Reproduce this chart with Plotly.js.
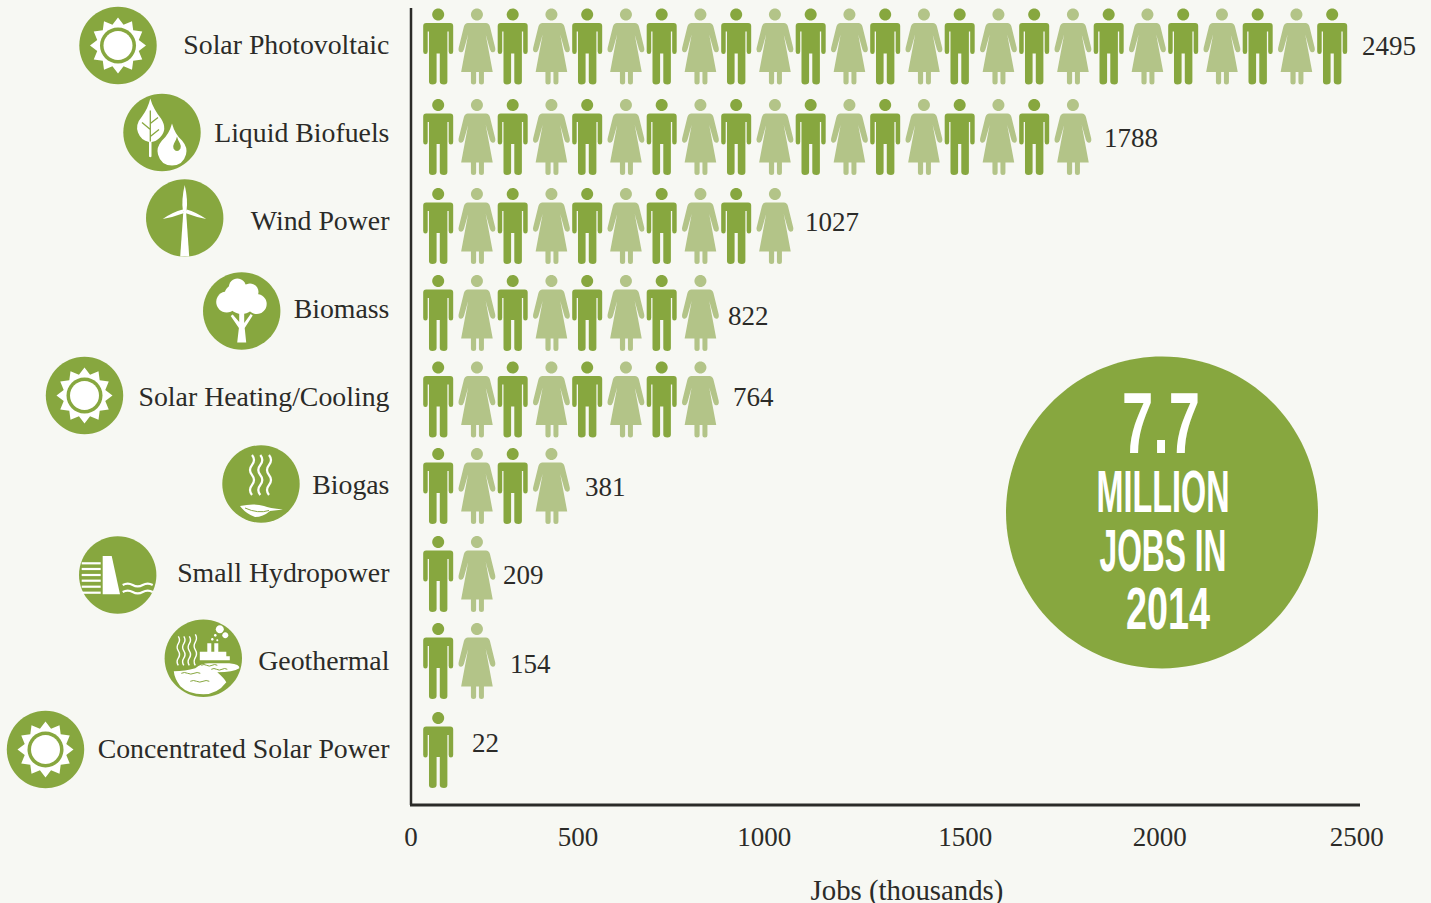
<!DOCTYPE html>
<html><head><meta charset="utf-8">
<script src="https://cdn.plot.ly/plotly-3.0.1.min.js"></script>
<style>html,body{margin:0;padding:0;background:#f7f8f3;overflow:hidden}</style>
</head><body><div id="chart" style="width:1431px;height:903px"></div>
<script>
// ---- data ----
const categories = ["Solar Photovoltaic","Liquid Biofuels","Wind Power","Biomass","Solar Heating/Cooling","Biogas","Small Hydropower","Geothermal","Concentrated Solar Power"];
const jobs = [2495,1788,1027,822,764,381,209,154,22];
const tickLabels = ["0","500","1000","1500","2000","2500"];
const calloutLines = ["7.7","MILLION","JOBS IN","2014"];
const unitPerFigure = 100;

// ---- layout helpers (not data) ----
const GREEN="#87a73f", PALE="#b3c488", BG="#f7f8f3", INK="#2b2b28", WHITE="#ffffff";
const PL=411, PT=8, PB=805, PR=1403, SCALE=0.3725, ROW0=44.5, ROWH=88;
const xMax=(PR-PL)/SCALE;
const tickSpots=[0,448,948,1488,2010,2539];
const rowNudge=[2,4.5,5.5,4.5,3,1.5,1.5,0.5,1.5];
const labelShiftX=[19.6,25,9.4,8.8,35.4,30,12,39.6,50.8];
const labelShiftY=[1.5,5.5,1.5,7.5,0.5,2.5,2.5,3.5,-5.5];
const iconCentres=[[118,45.5],[162,132.5],[184.7,218],[241.7,311],[84.5,395.5],[261,484],[117.7,575],[203.3,658.3],[45.5,749.5]];
const iconKinds=["sun","fuel","wind","tree","sun","gas","hydro","geo","sun"];
const px2fx=p=>(p-PL)/(PR-PL), py2fy=p=>(PB-p)/(PB-PT);

function flip(d){ // write icons y-down, Plotly pixel-size paths are y-up
  return d.replace(/([MLCQ])([^MLCQZ]*)/g,(m,c,a)=>{
    const n=a.trim().split(/[\s,]+/).map(Number);
    return c+n.map((v,i)=>{const o=i%2?-v:v;return +o.toFixed(2)}).join(",")+" ";
  });
}
function circ(cx,cy,r){const k=r*0.5523;
  return `M${cx-r},${cy} C${cx-r},${cy-k} ${cx-k},${cy-r} ${cx},${cy-r} C${cx+k},${cy-r} ${cx+r},${cy-k} ${cx+r},${cy} C${cx+r},${cy+k} ${cx+k},${cy+r} ${cx},${cy+r} C${cx-k},${cy+r} ${cx-r},${cy+k} ${cx-r},${cy} Z`;}
function vwave(x,y0,y1,amp,n){let d=`M${x},${y0} `;const s=(y1-y0)/n;
  for(let i=0;i<n;i++){const sgn=i%2?-1:1;d+=`Q${x+sgn*amp*2},${y0+s*(i+.5)} ${x},${y0+s*(i+1)} `;}return d;}
function hwave(x0,x1,y,amp,n){let d=`M${x0},${y} `;const s=(x1-x0)/n;
  for(let i=0;i<n;i++){const sgn=i%2?1:-1;d+=`Q${x0+s*(i+.5)},${y+sgn*amp*2} ${x0+s*(i+1)},${y} `;}return d;}

const MAN="M-12,-23.5 L12,-23.5 Q15,-23.5 15,-20.5 L15,5 Q15,7.5 12.7,7.5 Q10.5,7.5 10.5,5 L10.5,-15 L9.2,-15 L9.2,35 Q9.2,38 5.8,38 Q1.6,38 1.6,35 L1.6,7 L-1.6,7 L-1.6,35 Q-1.6,38 -5.8,38 Q-9.2,38 -9.2,35 L-9.2,-15 L-10.5,-15 L-10.5,5 Q-10.5,7.5 -12.7,7.5 Q-15,7.5 -15,5 L-15,-20.5 Q-15,-23.5 -12,-23.5 Z";
const WOMAN="M-9,-23.5 L9,-23.5 Q12,-23.5 13,-20 L18.3,1.5 Q19,5.5 16,5.8 Q14,6 13,3 L8.8,-12 L15.8,25.5 L7,25.5 L7,35.5 Q7,38 4.5,38 Q2,38 2,35.5 L2,25.5 L-0.8,25.5 L-0.8,35.5 Q-0.8,38 -3.4,38 Q-6,38 -6,35.5 L-6,25.5 L-15.8,25.5 L-8.8,-12 L-13,3 Q-14,6 -16,5.8 Q-19,5.5 -18.3,1.5 L-13,-20 Q-12,-23.5 -9,-23.5 Z";
const HEAD=circ(0,-32,6);

const shapes=[];
// pictogram rows: one figure per unitPerFigure jobs
jobs.forEach((v,row)=>{
  const n=Math.max(1,Math.round(v/unitPerFigure));
  for(let i=0;i<n;i++){
    const common={type:"path",xref:"x",yref:"y",xsizemode:"pixel",ysizemode:"pixel",
      xanchor:73+i*unitPerFigure+(i%2?4:0),yanchor:row+rowNudge[row]/ROWH,layer:"above",
      fillcolor:i%2?PALE:GREEN,line:{width:0}};
    shapes.push(Object.assign({},common,{path:flip(i%2?WOMAN:MAN)}));
    shapes.push(Object.assign({},common,{path:flip(HEAD)}));
  }
});
function pap(cx,cy,path,fill,stroke,w){
  shapes.push({type:"path",xref:"paper",yref:"paper",xsizemode:"pixel",ysizemode:"pixel",
    xanchor:px2fx(cx),yanchor:py2fy(cy),layer:"above",path:flip(path),
    fillcolor:fill||"rgba(0,0,0,0)",line:stroke?{color:stroke,width:w}:{width:0}});
}
function drawIcon(kind,cx,cy){
  pap(cx,cy,circ(0,0,38.7),GREEN);
  const W=(p)=>pap(cx,cy,p,WHITE), G=(p)=>pap(cx,cy,p,GREEN);
  const WS=(p,w)=>pap(cx,cy,p,null,WHITE,w), GS=(p,w)=>pap(cx,cy,p,null,GREEN,w);
  if(kind==="sun"){
    let d="";const T=12;
    for(let i=0;i<T;i++){
      const a=-Math.PI/2+i*2*Math.PI/T,b=a+Math.PI/T;
      d+=(i?"L":"M")+(28*Math.cos(a)).toFixed(2)+","+(28*Math.sin(a)).toFixed(2)+" L"+(21.5*Math.cos(b)).toFixed(2)+","+(21.5*Math.sin(b)).toFixed(2)+" ";
    }
    W(d+"Z"); G(circ(0,0,18)); W(circ(0,0,14.5));
  } else if(kind==="fuel"){
    W("M-11.7,-34 Q-9,-24 -1,-14 Q6,-3 -2,5 Q-6,9 -10.5,9.5 L-10.5,24 Q-11.7,25.5 -13,24 L-13,9.5 Q-21,8 -24,0 Q-27,-8 -20,-16 Q-14,-24 -11.7,-34 Z");
    GS("M-11.7,-22 L-11.7,9 M-11.7,-3 L-20,-10 M-11.7,-9 L-4,-15 M-11.7,4 L-3,-3",1.3);
    W("M10,-9 Q13,2 20,8 Q26,15 24,22 Q21,33 10,33 Q-1,33 -4,22 Q-6,15 0,8 Q7,2 10,-9 Z");
    G("M15,4 Q16,8 18,11 Q19.5,14 18.5,16 Q17,18.5 15,18.5 Q13,18.5 11.5,16 Q10.5,14 12,11 Q14,8 15,4 Z");
  } else if(kind==="wind"){
    W("M-1.2,-9 L1.2,-9 L4.5,38.5 L-4.5,38.5 Z");
    W("M0,-33 Q3.5,-18 1.8,-7 L-1.8,-7 Q-3.5,-18 0,-33 Z");
    W("M-22,1 Q-12,-6 -2,-8.5 L-0.5,-5 Q-11,-1 -22,1 Z");
    W("M21.5,1 Q11,-6 2,-8.5 L0.5,-5 Q11,-1 21.5,1 Z");
  } else if(kind==="tree"){
    [[-4.3,-24,8.5],[8.3,-19,8.5],[-15,-9,10.5],[15,-7,10],[0,-12,15],[-8,-17,9]].forEach(c=>W(circ(c[0],c[1],c[2])));
    W("M-2.5,0 L2.5,0 L2.5,12 L9,3 L11,4.5 L3,17 L4.5,31.5 L-4.5,31.5 L-2.8,17 L-11,5 L-9,3.5 L-2.5,11 Z");
  } else if(kind==="gas"){
    [-9,-0.7,8].forEach(x=>WS(vwave(x,-29,11,2,4),2.2));
    W("M-21,22 Q-7,19 3,22 Q8,24 22,25.5 L9,27 Q2,33 -6,33 Q-15,30 -21,22 Z");
    GS("M-16,24 Q-3,30 8,26.5",1);
  } else if(kind==="hydro"){
    [-11.7,-6,0,5.7,11.7,17.7].forEach(y=>W(`M-36,${y-1.1} L-17,${y-1.1} L-17,${y+1.1} L-36,${y+1.1} Z`));
    W("M-15,-19 L-6,-19 L2.3,19.3 L-15,19.3 Z");
    WS(hwave(5,35,10,1.4,3),2.2); WS(hwave(5,35,17,1.4,3),2.2);
  } else if(kind==="geo"){
    [-25,-19.5,-14,-8].forEach((x,i)=>WS(vwave(x,-22-(i===3?2:0),7,1.2,4),1.4));
    W("M-3.5,-6.5 L4,-6.5 L4,-15 L8,-15 L8,-6.5 L11,-6.5 L11,-15 L15,-15 L15,-6.5 L23,-6.5 L23,-2 L26.5,-2 L26.5,2 L-3.5,2 Z");
    W(circ(16.5,-29,4)); W(circ(22,-23,3)); W(circ(12,-23,1.4)); W(circ(9,-19,1.3)); W(circ(14,-18,1));
    W("M-29.5,13 Q-18,13 -8,10 Q-2,5 6,5 L26,5 Q37,6 36,10 Q30,14 14,14 Q21,20 23,24 Q14,36 0,36 Q-15,36 -23,28 Q-29,20 -29.5,13 Z");
    [[-22,-3,15],[-13,6,23],[-2,14,7],[8,24,11]].forEach(a=>GS(hwave(a[0],a[1],a[2],.8,3),1));
  }
}
iconKinds.forEach((k,i)=>drawIcon(k,iconCentres[i][0],iconCentres[i][1]));
// axis lines: the x line stops short of the plot edge, as in the reference
shapes.push({type:"line",xref:"paper",yref:"paper",x0:px2fx(411),x1:px2fx(411),y0:0,y1:1,line:{color:INK,width:2.5},layer:"above"});
shapes.push({type:"line",xref:"paper",yref:"paper",x0:px2fx(410),x1:px2fx(1360),y0:0,y1:0,line:{color:INK,width:3},layer:"above"});
// callout disc
pap(1162,512.5,circ(0,0,156),GREEN);

const serif="Liberation Serif, serif";
const annotations=jobs.map((v,i)=>({
  x:v,y:i,xref:"x",yref:"y",text:String(v),showarrow:false,xanchor:"left",yanchor:"middle",
  xshift:labelShiftX[i],yshift:-labelShiftY[i],font:{family:serif,size:27,color:INK}
}));
// callout: one block of text; line geometry = [centre x, baseline y, width]
const calloutGeom=[[1161,453.3,78],[1163,512.3,133],[1163,571,127],[1168,629.3,84]];
annotations.push({
  x:px2fx(1163),y:py2fy(512),xref:"paper",yref:"paper",showarrow:false,xanchor:"center",yanchor:"middle",align:"center",
  text:calloutLines.map((t,i)=>i===0?`<span style="font-size:88px">${t}</span>`:t).join("<br>"),
  font:{family:"Liberation Sans Narrow, Liberation Sans, sans-serif",size:60,color:WHITE,weight:700}
});

const trace={type:"scatter",mode:"markers",x:jobs,y:categories.map((c,i)=>i),text:categories,
  marker:{opacity:0,size:10,color:GREEN},showlegend:false,hovertemplate:"%{text}: %{x}<extra></extra>"};

const layout={
  width:1431,height:903,paper_bgcolor:BG,plot_bgcolor:BG,showlegend:false,
  margin:{l:PL,r:1431-PR,t:PT,b:903-PB,pad:0},
  font:{family:serif,color:INK},
  xaxis:{range:[0,xMax],tickmode:"array",tickvals:tickSpots,ticktext:tickLabels,showgrid:false,zeroline:false,
    showline:false,ticks:"outside",ticklen:8,tickcolor:"rgba(0,0,0,0)",tickfont:{family:serif,size:27,color:INK},
    title:{text:"Jobs (thousands)",standoff:41,font:{family:serif,size:28.8,color:INK}}},
  yaxis:{range:[(PB-ROW0)/ROWH,(PT-ROW0)/ROWH],tickmode:"array",tickvals:categories.map((c,i)=>i),ticktext:categories,
    showgrid:false,zeroline:false,showline:false,ticks:"outside",ticklen:15,tickcolor:"rgba(0,0,0,0)",
    tickfont:{family:serif,size:27.8,color:INK}},
  shapes,annotations
};
Plotly.newPlot("chart",[trace],layout,{displayModeBar:false,staticPlot:true}).then(()=>{
  // the reference's callout face is far more condensed than any installed font:
  // fit each line of the block to its measured width and baseline
  const el=[...document.querySelectorAll(".annotation-text")].find(t=>t.textContent.indexOf("MILLION")>=0);
  if(el){
    const ctm=el.getScreenCTM();
    el.querySelectorAll("tspan.line").forEach((ln,i)=>{
      const g=calloutGeom[i]; if(!g) return;
      ln.setAttribute("x",g[0]-ctm.e);
      ln.setAttribute("y",g[1]-ctm.f);
      ln.removeAttribute("dy");
      const inner=ln.querySelector("tspan")||ln;
      inner.setAttribute("textLength",g[2]);
      inner.setAttribute("lengthAdjust","spacingAndGlyphs");
    });
  }
  // axis title sits a little lower, as in the reference
  const xt=document.querySelector(".xtitle");
  if(xt) xt.setAttribute("y",parseFloat(xt.getAttribute("y"))+4);
});
</script></body></html>
